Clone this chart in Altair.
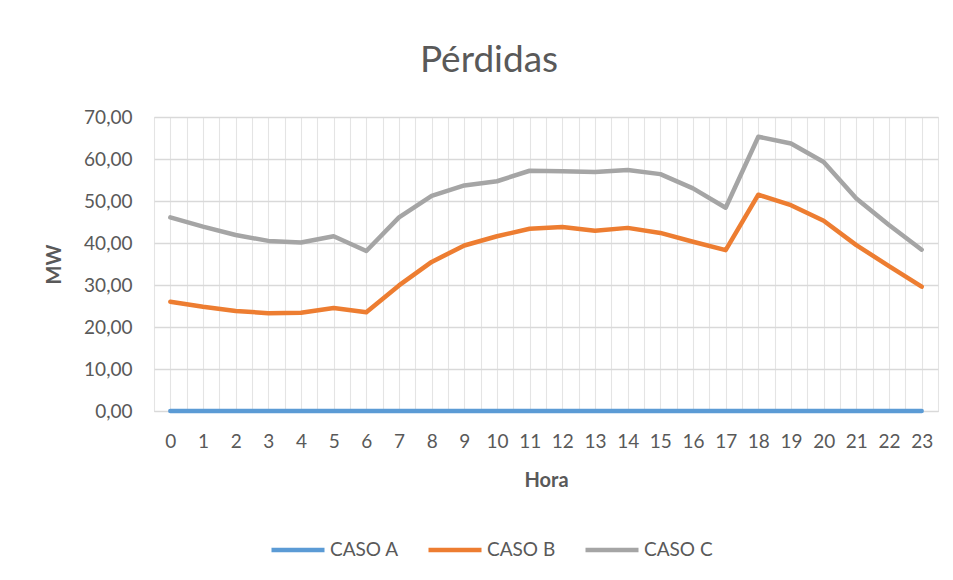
import altair as alt
import pandas as pd

hours = list(range(24))
series_names = ["CASO A", "CASO B", "CASO C"]
series_colors = ["#5B9BD5", "#ED7D31", "#A5A5A5"]

caso_a = [0.0, 0.0, 0.0, 0.0, 0.0, 0.0, 0.0, 0.0, 0.0, 0.0, 0.0, 0.0,
          0.0, 0.0, 0.0, 0.0, 0.0, 0.0, 0.0, 0.0, 0.0, 0.0, 0.0, 0.0]
caso_b = [26.0, 24.8, 23.8, 23.3, 23.4, 24.5, 23.5, 29.9, 35.5, 39.4, 41.6, 43.4,
          43.8, 42.9, 43.6, 42.4, 40.3, 38.3, 51.5, 49.0, 45.3, 39.5, 34.5, 29.6]
caso_c = [46.1, 43.9, 41.9, 40.5, 40.1, 41.6, 38.1, 46.1, 51.2, 53.7, 54.7, 57.2,
          57.1, 56.9, 57.4, 56.4, 53.0, 48.4, 65.3, 63.7, 59.3, 50.6, 44.3, 38.4]

y_ticks = [0, 10, 20, 30, 40, 50, 60, 70]
x_grid = [h - 0.5 for h in hours] + hours + [hours[-1] + 0.5]

rows = []
for name, vals in zip(series_names, [caso_a, caso_b, caso_c]):
    for h, v in zip(hours, vals):
        rows.append({"Hora": h, "MW": v, "Serie": name})
df = pd.DataFrame(rows)

FONT = "Lato"
TXT = "#595959"

chart = alt.Chart(df).mark_line(strokeWidth=4.5, strokeCap="round", strokeJoin="round").encode(
    x=alt.X("Hora:Q",
            scale=alt.Scale(domain=[-0.5, 23.5], nice=False, zero=False),
            axis=alt.Axis(values=x_grid, title="Hora", ticks=False,
                          labelExpr="datum.value % 1 == 0 ? datum.value : ''",
                          labelFontSize=19, labelFont=FONT, labelColor=TXT,
                          labelPadding=21, labelFlush=False, labelOverlap=False,
                          titleFontSize=20, titleFont=FONT, titleFontWeight="bold",
                          titleColor=TXT, titleY=75, titleBaseline="alphabetic",
                          domainColor="#d9d9d9", grid=True, gridColor="#e4e4e4",
                          gridWidth=1.1)),
    y=alt.Y("MW:Q",
            scale=alt.Scale(domain=[0, 70], nice=False),
            axis=alt.Axis(values=y_ticks, title="MW", ticks=False, domain=False,
                          labelExpr="replace(format(datum.value, '.2f'), '.', ',')",
                          labelFontSize=19, labelFont=FONT, labelColor=TXT,
                          labelPadding=22,
                          titleFontSize=20, titleFont=FONT, titleFontWeight="bold",
                          titleColor=TXT, titleX=-100, titleY=147,
                          titleBaseline="middle", titleAlign="center",
                          grid=True, gridColor="#d9d9d9", gridWidth=1.3)),
    color=alt.Color("Serie:N",
                    scale=alt.Scale(domain=series_names, range=series_colors),
                    legend=alt.Legend(orient="none", legendX=115, legendY=404,
                                      direction="horizontal", title=None,
                                      symbolType="stroke", symbolSize=2809,
                                      symbolStrokeWidth=4.5,
                                      labelFontSize=19, labelFont=FONT,
                                      labelColor=TXT, labelOffset=3,
                                      columnPadding=20, padding=0)),
).properties(
    width=784,
    height=294,
    title=alt.TitleParams(text="Pérdidas", fontSize=37, font=FONT,
                          fontWeight="normal", color=TXT, dx=-57, offset=-1,
                          baseline="alphabetic", anchor="middle"),
    autosize=alt.AutoSizeParams(type="none"),
    padding={"left": 146, "top": 109, "right": 5, "bottom": 150},
).configure_view(
    fill="#f0f0f0", stroke="#d9d9d9", strokeWidth=1.2
).configure(background="white")

chart.save("out.html", embed_options={"renderer": "svg", "actions": False})
